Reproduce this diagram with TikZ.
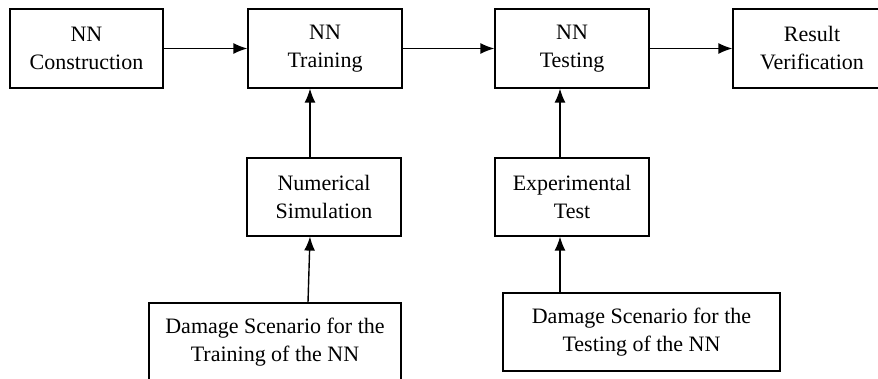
\documentclass[tikz,border=0pt]{standalone}
\usepackage{fontspec}
\setmainfont{Liberation Serif}
\usetikzlibrary{arrows.meta}
\begin{document}
\begin{tikzpicture}[x=0.5pt,y=-0.5pt]
		  \tikzstyle{every node}=[draw,line width=0.6pt,shape=rectangle,align=center,
		    font=\fontsize{11}{14}\selectfont,inner sep=0pt];
		  \tikzstyle{arr}=[-{Latex[length=7pt,width=5.5pt]},line width=0.7pt,draw];
			\path[use as bounding box,clip] (0,0) rectangle (878,379);

			\path (86.5,48.5) node[minimum width=76.5pt,minimum height=39.5pt] (cons) {NN\\Construction};
			\path (325,48.5)  node[minimum width=77pt,minimum height=39.5pt] (train) {NN\\Training};
			\path (572,48.5)  node[minimum width=77pt,minimum height=39.5pt] (test) {NN\\Testing};
			\path (812,48.5)  node[minimum width=79pt,minimum height=39.5pt] (result) {Result\\Verification};
			\path (324,197)   node[minimum width=77pt,minimum height=39pt] (numsim) {Numerical\\Simulation};
			\path (572,197)   node[minimum width=77pt,minimum height=39pt] (exptest) {Experimental\\Test};
			\path (275,342)   node[minimum width=126pt,minimum height=39pt] (dmgtrain) {Damage Scenario for the\\Training of the NN};
			\path (641.5,332) node[minimum width=138.5pt,minimum height=39pt] (dmgtest) {Damage Scenario for the\\Testing of the NN};

			\path[arr] (cons) -- (train);
			\path[arr] (train) -- (test);
			\path[arr] (test) -- (result);
			\path[arr] ([xshift=-8pt]dmgtrain.north -| numsim.south) -- ([xshift=-7pt]numsim.south);
			\path[arr] ([xshift=-7pt]numsim.north) -- ([xshift=-7pt]numsim.north |- train.south);
			\path[arr] ([xshift=-6pt]exptest.south |- dmgtest.north) -- ([xshift=-6pt]exptest.south);
			\path[arr] ([xshift=-6pt]exptest.north) -- ([xshift=-6pt]exptest.north |- test.south);
		\end{tikzpicture}
\end{document}
